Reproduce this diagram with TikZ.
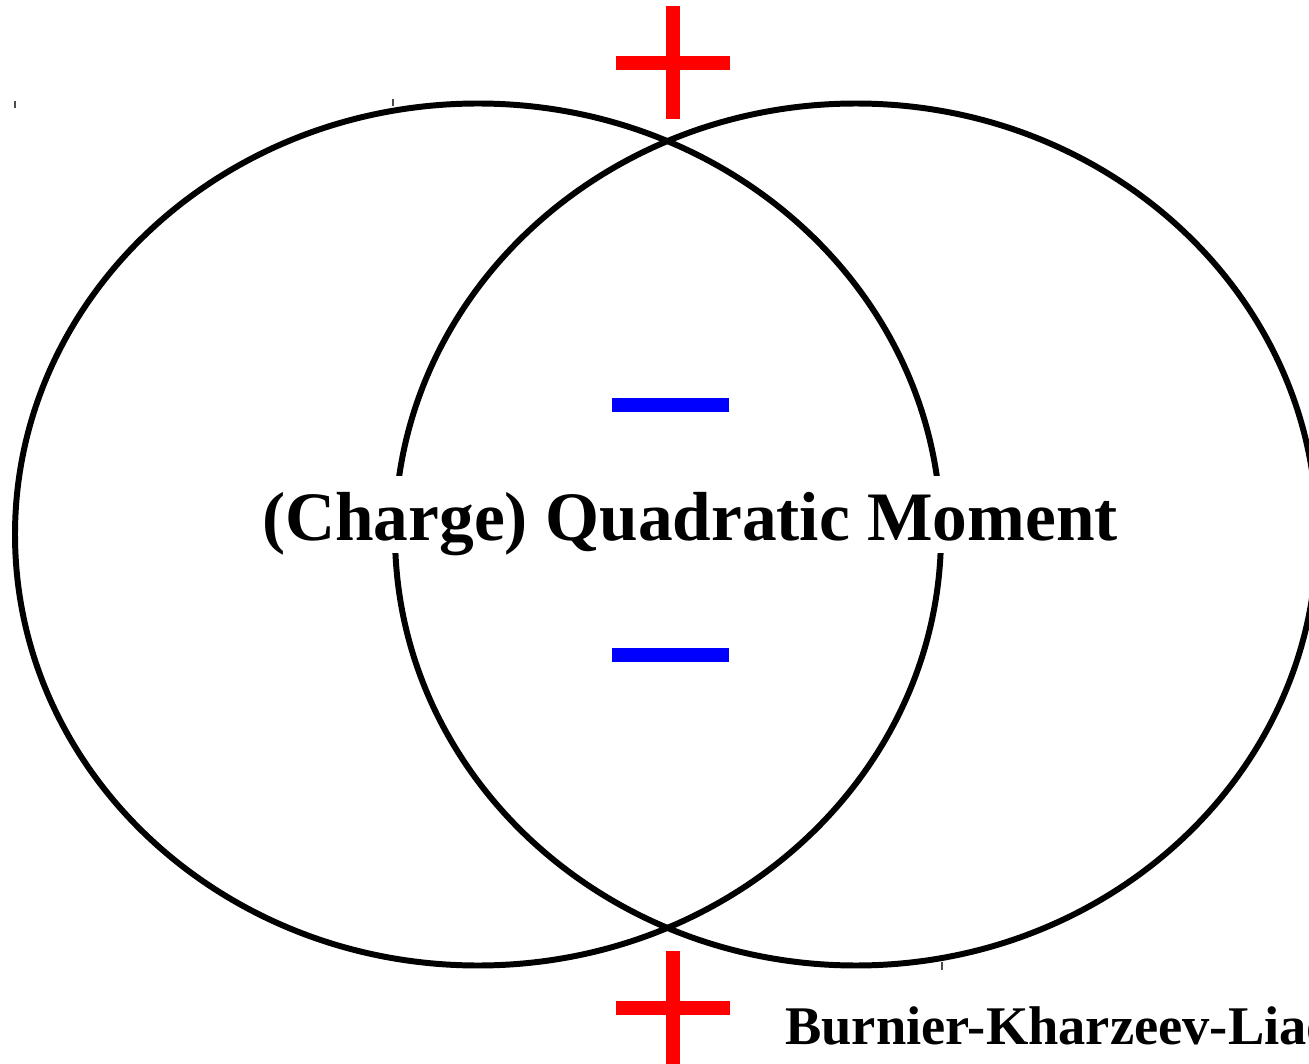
\documentclass[tikz,border=0pt]{standalone}
\usepackage{fontspec}
\setmainfont{Liberation Serif}
\begin{document}
\begin{tikzpicture}[x=0.02cm,y=-0.02cm,
  ring/.style={line width=3.4pt,black},
  plusbar/.style={line width=8pt,red},
  minusbar/.style={line width=8pt,blue},
  tick/.style={line width=0.6pt,black!70}]
\useasboundingbox (0,0) rectangle (1309,1064);
\clip (0,0) rectangle (1309,1064);
% ellipses
\draw[ring] (478,534.5) ellipse [x radius=463, y radius=431];
\draw[ring] (856,534.5) ellipse [x radius=461, y radius=431];
% ticks
\draw[tick] (15,101) -- (15,108);
\draw[tick] (393,99) -- (393,106);
\draw[tick] (942,962) -- (942,970);
% plus signs
\draw[plusbar] (673,6) -- (673,119);
\draw[plusbar] (616,63) -- (730,63);
\draw[plusbar] (673,951) -- (673,1070);
\draw[plusbar] (616,1008) -- (730,1008);
% minus signs
\draw[minusbar] (612,405) -- (729,405);
\draw[minusbar] (612,655) -- (729,655);
% texts
\node[font=\bfseries\fontsize{39.5}{44}\selectfont, anchor=base, inner sep=0,
      fill=white, text height=1.28cm, text depth=0.27cm] (main) at (690,540) {(Charge) Quadratic Moment};
\node[font=\bfseries\fontsize{31}{36}\selectfont, anchor=base west, inner sep=0] (bkl) at (785,1044) {Burnier-Kharzeev-Liao};
\end{tikzpicture}
\end{document}
